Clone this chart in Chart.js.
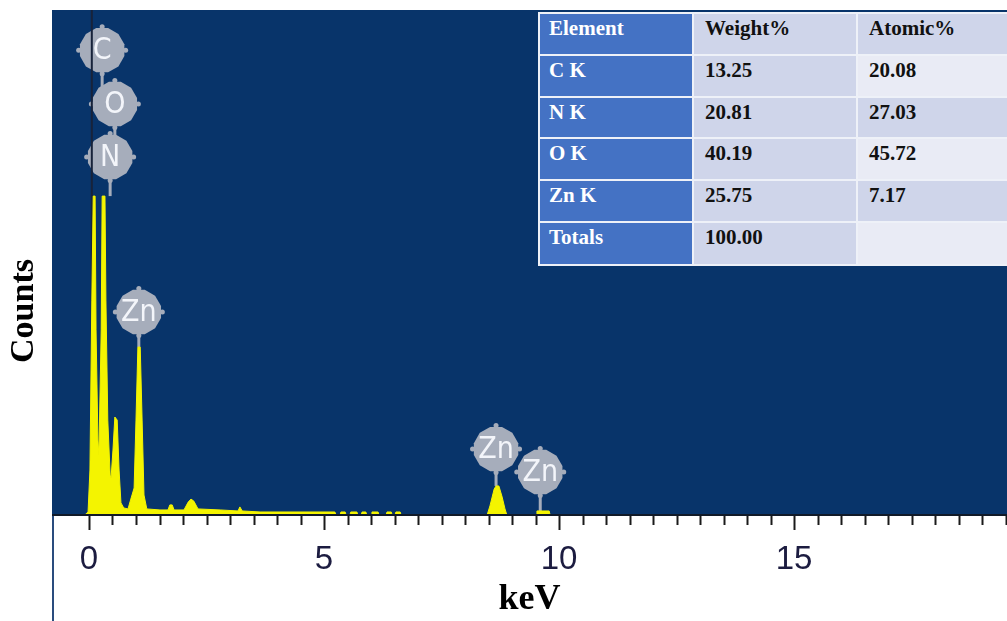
<!DOCTYPE html>
<html>
<head>
<meta charset="utf-8">
<script src="https://cdn.jsdelivr.net/npm/chart.js@4.4.1/dist/chart.umd.min.js"></script>
<style>
  html, body { margin: 0; padding: 0; background: #ffffff; overflow: hidden; }
  #wrap { position: relative; width: 1007px; height: 621px; overflow: hidden; }
  #spectrum { position: absolute; left: 0; top: 0; }
  #quant { position: absolute; left: 538px; top: 12px; width: 480px; height: 254px; background: #eef1f8; }
  .cell { position: absolute; box-sizing: border-box; padding: 4px 0 0 9px;
          font-family: 'Liberation Serif', 'Times New Roman', serif; font-weight: bold;
          font-size: 21px; line-height: 20px; color: #111111; white-space: nowrap; }
  .cell.elem { background: #4472c4; color: #ffffff; }
</style>
</head>
<body>
<div id="wrap">
  <canvas id="spectrum" width="1007" height="621"></canvas>
  <div id="quant"></div>
</div>
<script>
// EDS spectrum: energy (keV) and counts along the outline of the trace
const energyKeV = [
  -0.09, -0.02, 0.02, 0.06, 0.09, 0.13, 0.15, 0.19, 0.21, 0.26, 0.28, 0.34, 0.36, 0.40,
  0.45, 0.47, 0.51, 0.55, 0.60, 0.64, 0.68, 0.74, 0.83, 0.89, 0.96, 1.00, 1.04, 1.09,
  1.13, 1.17, 1.23, 1.51, 1.68, 1.72, 1.77, 1.81, 2.02, 2.11, 2.17, 2.23, 2.32, 2.79,
  3.17, 3.21, 3.26, 3.64, 5.23, 5.26,
  5.34, 5.36, 5.45, 5.47, 5.55, 5.57, 5.70, 5.72, 5.79, 5.81, 5.89, 5.91,
  6.00, 6.02, 6.15, 6.17, 6.32, 6.34, 6.43, 6.45, 6.51, 6.53, 6.62, 6.64,
  8.47, 8.53, 8.62, 8.66, 8.72, 8.79, 8.85, 8.89,
  9.51, 9.53, 9.79, 9.81, 19.6
];
const counts = [
  0, 12, 178, 851, 1263, 1263, 733, 297, 238, 733, 1263, 1263, 851, 376,
  158, 147, 257, 388, 376, 178, 48, 28, 24, 63, 107, 376, 665, 665,
  376, 79, 24, 20, 20, 40, 40, 20, 20, 51, 63, 55, 24, 20,
  16, 32, 16, 12, 12, 0,
  0, 12, 12, 0, 0, 12, 12, 0, 0, 12, 12, 0,
  0, 12, 12, 0, 0, 12, 12, 0, 0, 12, 12, 0,
  0, 36, 103, 115, 115, 71, 24, 0,
  0, 16, 16, 0, 0
];

// off-scale low-energy channel, drawn as a dark rule
const zeroPeakKeV = [0.06, 0.06];
const zeroPeakCounts = [0, 2000];

// axis
const xTickLabels = [0, 5, 10, 15];
const xMin = -0.787, xMax = 19.53;
const yMax = 2000;

// element line markers: label, energy, badge centre (counts) and where its stem ends (counts)
const markerLabels = ['C', 'O', 'N', 'Zn', 'Zn', 'Zn'];
const markerKeV = [0.28, 0.55, 0.45, 1.06, 8.66, 9.60];
const markerCounts = [1841, 1628, 1418, 804, 261, 170];
const markerStemTo = [1628, 1418, 1263, 665, 115, 16];

// quantification table
const tableHeader = ['Element', 'Weight%', 'Atomic%'];
const elements = ['C K', 'N K', 'O K', 'Zn K', 'Totals'];
const weightPct = ['13.25', '20.81', '40.19', '25.75', '100.00'];
const atomicPct = ['20.08', '27.03', '45.72', '7.17', ''];

// ---- table ----
(function buildTable() {
  const host = document.getElementById('quant');
  const colX = [539, 693, 857, 1030];
  const rowY = [13, 55, 97, 138, 180, 222, 265];
  const rows = [tableHeader].concat(elements.map((e, i) => [e, weightPct[i], atomicPct[i]]));
  rows.forEach((row, r) => {
    row.forEach((txt, c) => {
      const d = document.createElement('div');
      d.className = 'cell' + (c === 0 ? ' elem' : '');
      d.style.left = (colX[c] - 538 + 1) + 'px';
      d.style.top = (rowY[r] - 12 + 1) + 'px';
      d.style.width = (colX[c + 1] - colX[c] - 2) + 'px';
      d.style.height = (rowY[r + 1] - rowY[r] - 2) + 'px';
      if (c === 1) d.style.background = '#cfd5ea';
      if (c === 2) d.style.background = (r % 2 === 0) ? '#cfd5ea' : '#e9ebf5';
      if (c > 0) d.style.paddingLeft = '11px';
      d.textContent = txt;
      host.appendChild(d);
    });
  });
})();

// ---- chart ----
const spectrum = energyKeV.map((x, i) => ({ x: x, y: counts[i] }));
const zeroPeak = zeroPeakKeV.map((x, i) => ({ x: x, y: zeroPeakCounts[i] }));

const NAVY = '#08346a';

const framePlugin = {
  id: 'frame',
  beforeDraw(chart) {
    const { ctx, chartArea: a } = chart;
    ctx.save();
    ctx.fillStyle = NAVY;
    ctx.fillRect(a.left, a.top, a.right - a.left, a.bottom - a.top);
    // left border running down through the axis strip
    ctx.strokeStyle = '#2a4c7e';
    ctx.lineWidth = 2;
    ctx.beginPath();
    ctx.moveTo(a.left + 1, a.bottom);
    ctx.lineTo(a.left + 1, chart.height);
    ctx.stroke();
    // y title
    ctx.translate(33, 311);
    ctx.rotate(-Math.PI / 2);
    ctx.fillStyle = '#000000';
    ctx.font = 'bold 34px "Liberation Serif", "Times New Roman", serif';
    ctx.textAlign = 'center';
    ctx.textBaseline = 'alphabetic';
    ctx.fillText('Counts', 0, 0);
    ctx.restore();
  }
};

function drawBadge(ctx, cx, cy, r, label) {
  ctx.fillStyle = '#a6adbb';
  ctx.beginPath();
  const n = 12;
  for (let k = 0; k <= n; k++) {
    const a = k * 2 * Math.PI / n + Math.PI / n;
    const px = cx + r * Math.cos(a), py = cy + r * Math.sin(a);
    if (k === 0) ctx.moveTo(px, py); else ctx.lineTo(px, py);
  }
  ctx.closePath();
  ctx.fill();
  // small knobs on the rim
  [0, Math.PI / 2, Math.PI, 1.5 * Math.PI].forEach(a => {
    ctx.beginPath();
    ctx.arc(cx + (r + 0.5) * Math.cos(a), cy + (r + 0.5) * Math.sin(a), 2.5, 0, Math.PI * 2);
    ctx.fill();
  });
  ctx.fillStyle = '#f3f5fa';
  ctx.font = '30px "DejaVu Sans Condensed", "Arial Narrow", sans-serif';
  ctx.textAlign = 'center';
  ctx.textBaseline = 'middle';
  ctx.fillText(label, cx, cy + 1);
}

const markerPlugin = {
  id: 'markers',
  beforeDatasetsDraw(chart) {
    const { ctx, scales: { x, y } } = chart;
    ctx.save();
    const r = 23;
    markerLabels.forEach((lab, i) => {
      const cx = x.getPixelForValue(markerKeV[i]);
      const cy = y.getPixelForValue(markerCounts[i]);
      const sy = y.getPixelForValue(markerStemTo[i]);
      ctx.strokeStyle = '#a6adbb';
      ctx.lineWidth = 3;
      ctx.beginPath();
      ctx.moveTo(cx, cy);
      ctx.lineTo(cx, sy);
      ctx.stroke();
    });
    markerLabels.forEach((lab, i) => {
      drawBadge(ctx, x.getPixelForValue(markerKeV[i]), y.getPixelForValue(markerCounts[i]), r, lab);
    });
    ctx.restore();
  }
};

const axisPlugin = {
  id: 'axisTicks',
  afterDraw(chart) {
    const { ctx, chartArea: a, scales: { x } } = chart;
    ctx.save();
    ctx.strokeStyle = '#111a28';
    ctx.lineWidth = 2;
    ctx.beginPath();
    ctx.moveTo(a.left, a.bottom);
    ctx.lineTo(a.right, a.bottom);
    ctx.stroke();
    ctx.strokeStyle = '#1a1a1a';
    for (let v = 0; v <= 19.5; v += 0.5) {
      const px = Math.round(x.getPixelForValue(v)) + 0.5;
      const major = (v % 5 === 0);
      ctx.beginPath();
      ctx.moveTo(px, a.bottom + 1);
      ctx.lineTo(px, a.bottom + (major ? 15 : 10));
      ctx.stroke();
    }
    ctx.restore();
  }
};

new Chart(document.getElementById('spectrum'), {
  type: 'line',
  data: {
    datasets: [
      {
        data: spectrum,
        fill: 'origin',
        backgroundColor: '#f4f400',
        borderColor: '#f4f400',
        borderWidth: 1,
        pointRadius: 0,
        tension: 0,
        order: 1
      },
      {
        data: zeroPeak,
        fill: false,
        borderColor: '#18233a',
        borderWidth: 2,
        pointRadius: 0,
        order: 2
      }
    ]
  },
  options: {
    responsive: false,
    animation: false,
    devicePixelRatio: 1,
    layout: { padding: { left: 52, top: 10, right: 0, bottom: 0 } },
    plugins: { legend: { display: false }, tooltip: { enabled: false } },
    scales: {
      x: {
        type: 'linear',
        min: xMin,
        max: xMax,
        grid: { display: false, drawTicks: false },
        border: { display: false },
        afterBuildTicks: s => { s.ticks = xTickLabels.map(v => ({ value: v })); },
        afterFit: s => { s.height = 106; },
        ticks: {
          autoSkip: false,
          maxRotation: 0,
          padding: 25,
          color: '#1c1c40',
          font: { family: '"Liberation Sans", Arial, sans-serif', size: 33 }
        },
        title: {
          display: true,
          text: 'keV',
          color: '#000000',
          padding: { top: 0, bottom: 0 },
          font: { family: '"Liberation Serif", "Times New Roman", serif', size: 36, weight: 'bold' }
        }
      },
      y: { display: false, min: 0, max: yMax }
    }
  },
  plugins: [framePlugin, markerPlugin, axisPlugin]
});
</script>
</body>
</html>
